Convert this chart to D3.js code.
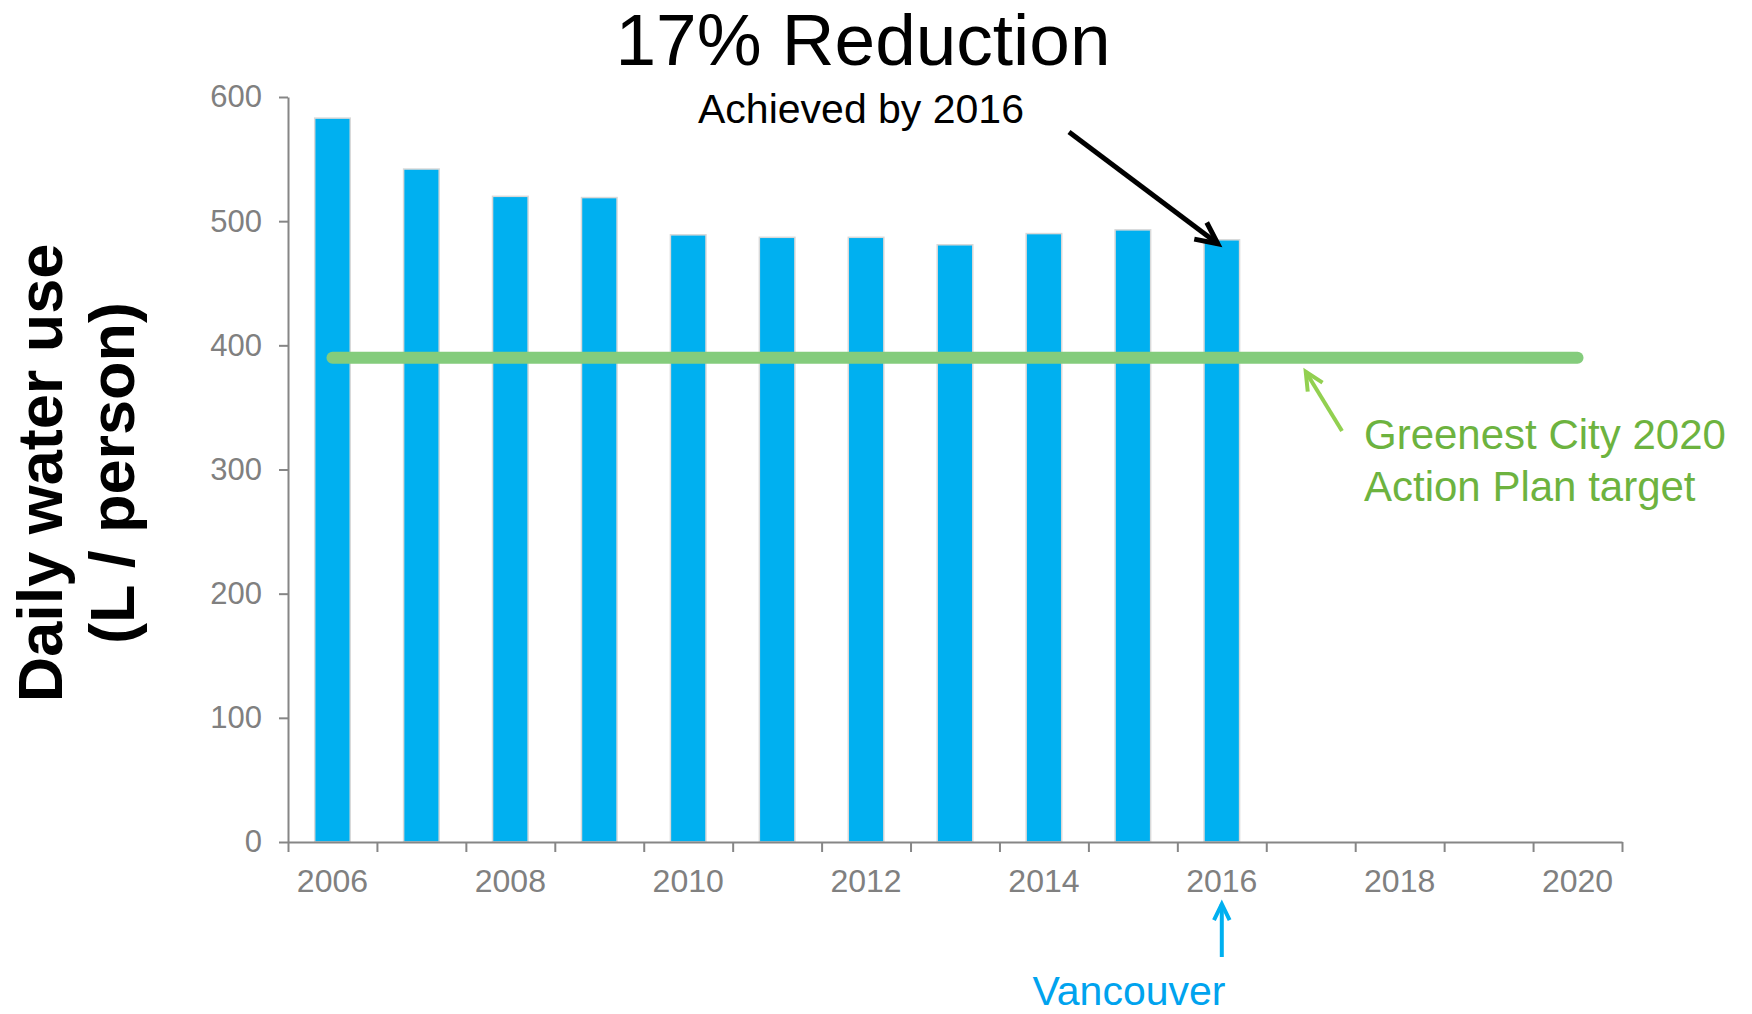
<!DOCTYPE html>
<html>
<head>
<meta charset="utf-8">
<script src="https://cdn.jsdelivr.net/npm/d3@7"></script>
<style>
  body { margin: 0; background: #fff; }
  svg { display: block; font-family: "Liberation Sans", Arial, sans-serif; }
</style>
</head>
<body>
<div id="chart"></div>
<script>
// Daily water use per person, Vancouver
const years = [2006, 2007, 2008, 2009, 2010, 2011, 2012, 2013, 2014, 2015, 2016, 2017, 2018, 2019, 2020];
const usageYears = [2006, 2007, 2008, 2009, 2010, 2011, 2012, 2013, 2014, 2015, 2016];
const usage = [583, 542, 520, 519, 489, 487, 487, 481, 490, 493, 485];
const target = 390;
const yTicks = [0, 100, 200, 300, 400, 500, 600];
const xLabelYears = [2006, 2008, 2010, 2012, 2014, 2016, 2018, 2020];

const svgWidth = 1752;
const svgHeight = 1014;

const margin = { top: 97, right: 130, bottom: 172, left: 288 };
const width = svgWidth - margin.left - margin.right;
const height = svgHeight - margin.top - margin.bottom;

const svg = d3.select("#chart")
  .append("svg")
  .attr("width", svgWidth)
  .attr("height", svgHeight);

const chartGroup = svg.append("g")
  .attr("transform", `translate(${margin.left}, ${margin.top})`);

// scales
const xBand = d3.scaleBand()
  .domain(years)
  .range([0, width])
  .paddingInner(0.6)
  .paddingOuter(0.3);

// boundaries between year categories, for the tick marks
const xEdge = d3.scaleLinear()
  .domain([years[0], years[years.length - 1] + 1])
  .range([0, width]);

const yScale = d3.scaleLinear()
  .domain([0, 600])
  .range([height, 0]);

const axisColor = "#868686";
const labelColor = "#808080";

// bars
chartGroup.selectAll(".bar")
  .data(usage)
  .enter()
  .append("rect")
  .attr("class", "bar")
  .attr("x", (d, i) => xBand(usageYears[i]))
  .attr("width", xBand.bandwidth())
  .attr("y", d => yScale(d))
  .attr("height", d => height - yScale(d))
  .attr("fill", "#00B0F0")
  .attr("stroke", "#d9d9d9")
  .attr("stroke-width", 1.5);

// y axis
const leftAxis = d3.axisLeft(yScale)
  .tickValues(yTicks)
  .tickSize(9)
  .tickSizeOuter(0)
  .tickPadding(17);

const yAxis = chartGroup.append("g").call(leftAxis);
yAxis.select(".domain").attr("stroke", axisColor).attr("stroke-width", 2);
yAxis.selectAll(".tick line").attr("stroke", axisColor).attr("stroke-width", 2);
yAxis.selectAll(".tick text")
  .attr("fill", labelColor)
  .style("font-size", "31px");

// x axis: tick marks at category edges
const edgeAxis = d3.axisBottom(xEdge)
  .tickValues(d3.range(years[0], years[years.length - 1] + 2))
  .tickSize(10)
  .tickSizeOuter(0)
  .tickFormat("");

const xAxis = chartGroup.append("g")
  .attr("transform", `translate(0, ${height})`)
  .call(edgeAxis);
xAxis.select(".domain").attr("stroke", axisColor).attr("stroke-width", 2);
xAxis.selectAll(".tick line").attr("stroke", axisColor).attr("stroke-width", 2);

// x axis labels at category centres
const labelAxis = d3.axisBottom(xBand)
  .tickValues(xLabelYears)
  .tickSize(0)
  .tickPadding(27);

const xLabels = chartGroup.append("g")
  .attr("transform", `translate(0, ${height})`)
  .call(labelAxis);
xLabels.select(".domain").remove();
xLabels.selectAll(".tick text")
  .attr("fill", labelColor)
  .style("font-size", "32px");

// target line
const cx = yr => xBand(yr) + xBand.bandwidth() / 2;

chartGroup.append("line")
  .attr("x1", cx(2006))
  .attr("x2", cx(2020))
  .attr("y1", yScale(target))
  .attr("y2", yScale(target))
  .attr("stroke", "#84CC7C")
  .attr("stroke-width", 12)
  .attr("stroke-linecap", "round");

// arrows
function arrow(x1, y1, x2, y2, color, w, head) {
  const a = Math.atan2(y2 - y1, x2 - x1);
  const spread = Math.PI / 7;
  const p1 = [x2 - head * Math.cos(a - spread), y2 - head * Math.sin(a - spread)];
  const p2 = [x2 - head * Math.cos(a + spread), y2 - head * Math.sin(a + spread)];
  chartGroup.append("line")
    .attr("x1", x1).attr("y1", y1).attr("x2", x2).attr("y2", y2)
    .attr("stroke", color).attr("stroke-width", w);
  chartGroup.append("path")
    .attr("d", `M${p1[0]},${p1[1]} L${x2},${y2} L${p2[0]},${p2[1]}`)
    .attr("fill", "none")
    .attr("stroke", color)
    .attr("stroke-width", w)
    .attr("stroke-linejoin", "miter");
}

// black arrow to the 2016 bar
arrow(1069 - margin.left, 132 - margin.top, cx(2016) - 4, yScale(485) + 4, "#000", 5, 24);
// green arrow to the target line
arrow(1342 - margin.left, 431 - margin.top, cx(2017) - 5, yScale(target) + 14, "#92D050", 4, 20);
// blue arrow to 2016 label
arrow(cx(2016), 957 - margin.top, cx(2016), 904 - margin.top, "#00B0F0", 4, 18);

// titles and notes
svg.append("text")
  .attr("x", 863)
  .attr("y", 65)
  .attr("text-anchor", "middle")
  .style("font-size", "73px")
  .attr("fill", "#000")
  .text("17% Reduction");

svg.append("text")
  .attr("x", 861)
  .attr("y", 123)
  .attr("text-anchor", "middle")
  .style("font-size", "41px")
  .attr("fill", "#000")
  .text("Achieved by 2016");

const note = svg.append("text")
  .attr("x", 1364)
  .attr("fill", "#6DB33F")
  .style("font-size", "42px");
note.append("tspan").attr("x", 1364).attr("y", 449).text("Greenest City 2020");
note.append("tspan").attr("x", 1364).attr("y", 501).text("Action Plan target");

svg.append("text")
  .attr("x", 1129)
  .attr("y", 1005)
  .attr("text-anchor", "middle")
  .attr("fill", "#00A3EE")
  .style("font-size", "41px")
  .text("Vancouver");

// y axis title
const yTitle = svg.append("text")
  .attr("transform", "translate(0, 473) rotate(-90)")
  .attr("text-anchor", "middle")
  .style("font-size", "63px")
  .style("font-weight", "bold")
  .attr("fill", "#000");
yTitle.append("tspan").attr("x", 0).attr("y", 62).text("Daily water use");
yTitle.append("tspan").attr("x", 0).attr("y", 134).text("(L / person)");
</script>
</body>
</html>
